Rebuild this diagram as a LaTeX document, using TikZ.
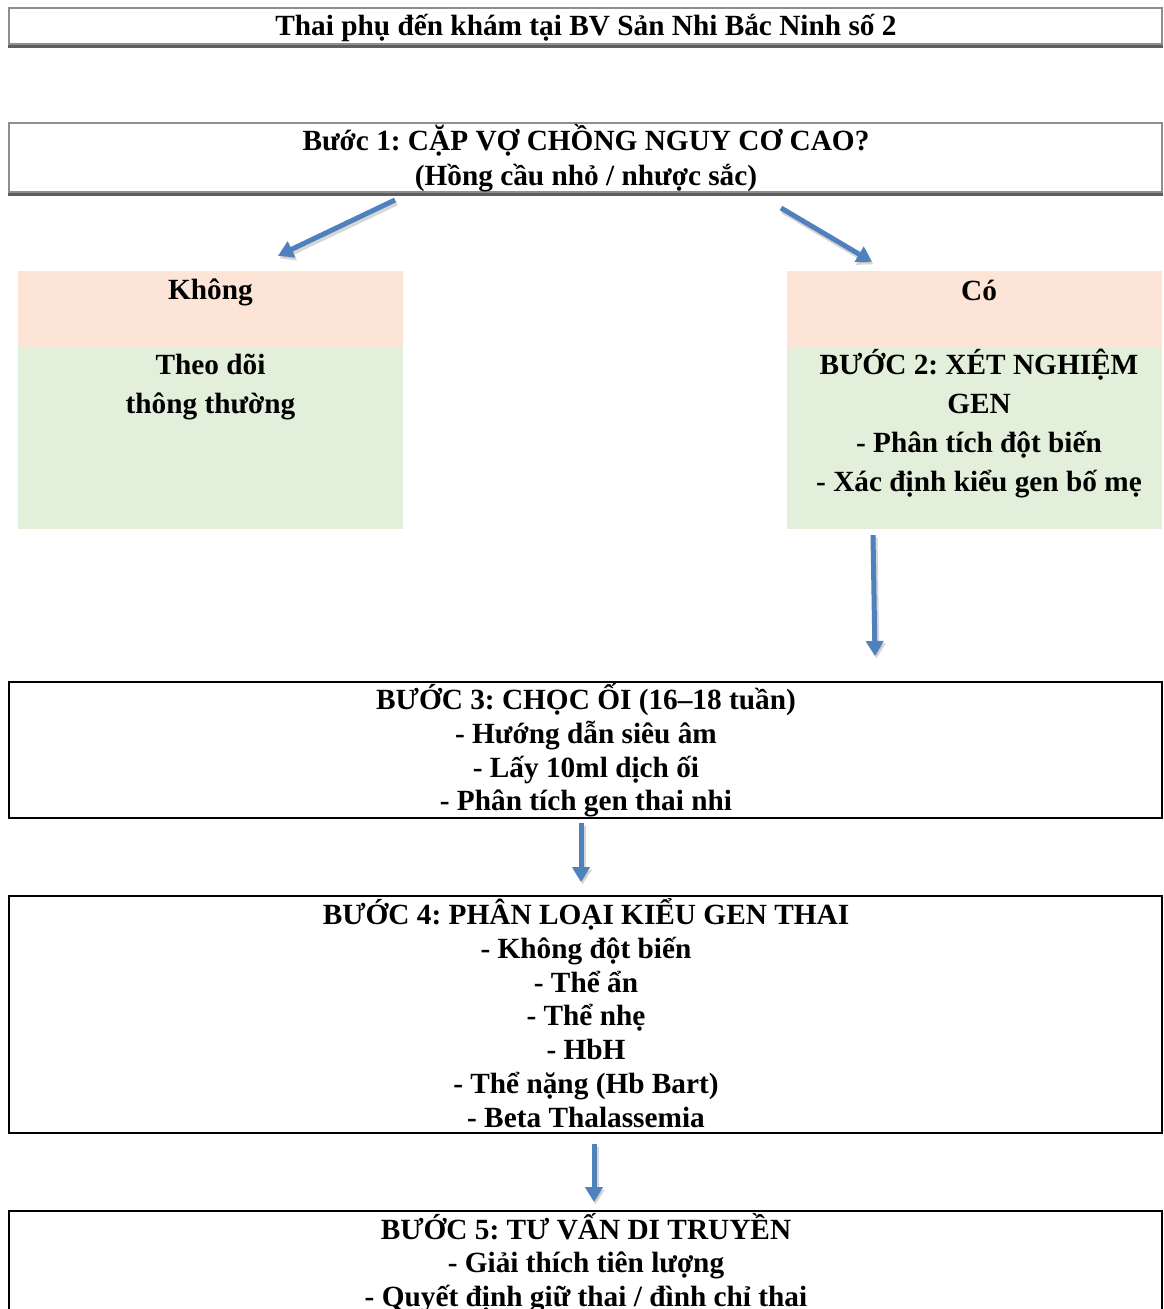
\documentclass[tikz,border=0pt]{standalone}
\usepackage{fontspec}
\setmainfont{Liberation Serif}
\frenchspacing
\usetikzlibrary{arrows.meta,calc}
\definecolor{peach}{HTML}{FCE4D6}
\definecolor{mint}{HTML}{E2EFDA}
\definecolor{arrblue}{HTML}{4F81BD}
\definecolor{framegray}{HTML}{8E8E8E}
\definecolor{shadowgray}{HTML}{5E5E5E}
\begin{document}
\begin{tikzpicture}[x=1pt,y=-1pt,
  txt/.style={font=\fontsize{29.3}{33.7}\selectfont\bfseries, align=center, inner sep=0pt, text=black},
  txtwide/.style={font=\fontsize{29.3}{39}\selectfont\bfseries, align=center, inner sep=0pt, text=black},
  graybox/.style={draw=framegray, line width=2pt, fill=white, minimum width=1153pt, inner sep=0pt, txt},
  blackbox/.style={draw=black, line width=2pt, fill=white, minimum width=1153pt, inner sep=0pt, txt},
  fillbox/.style={inner sep=0pt, draw=none},
  bluearrow/.style={arrblue, line width=5pt, -{Triangle[length=15pt,width=17pt]}},
  arrshadow/.style={black!45, opacity=0.35, line width=6pt, -{Triangle[length=15pt,width=18pt]}}
]
\useasboundingbox (0,0) rectangle (1163,1309);
\clip (0,0) rectangle (1163,1309);
\fill[white] (0,0) rectangle (1163,1309);

% title
\node[graybox, minimum height=36pt] (title) at (585.5,26) {};
\node[txt] (titleT) at (586,27.5) {Thai phụ đến khám tại BV Sản Nhi Bắc Ninh số 2};
\draw[shadowgray, line width=3pt] ([yshift=-1.5pt]title.south west) -- ([yshift=-1.5pt]title.south east);

% step 1
\node[graybox, minimum height=69pt] (s1) at (585.5,157.5) {};
\node[txt, font=\fontsize{29.3}{35}\selectfont\bfseries] (s1T) at (586,158.5) {Bước 1: CẶP VỢ CHỒNG NGUY CƠ CAO?\\(Hồng cầu nhỏ / nhược sắc)};
\draw[shadowgray, line width=3pt] ([yshift=-1.5pt]s1.south west) -- ([yshift=-1.5pt]s1.south east);

% Khong column
\node[fillbox, fill=peach, minimum width=385pt, minimum height=76pt] (kh) at (210.5,309) {};
\node[fillbox, fill=mint, minimum width=385pt, minimum height=182pt] (khg) at (210.5,438) {};
\node[txt] (khT) at (210.5,292) {Không};
\node[txtwide] (khgT) at (210.5,387.5) {Theo dõi\\thông thường};

% Co column
\node[fillbox, fill=peach, minimum width=375pt, minimum height=76pt] (co) at (974.5,309) {};
\node[fillbox, fill=mint, minimum width=375pt, minimum height=182pt] (cog) at (974.5,438) {};
\node[txt] (coT) at (979,290) {Có};
\node[txtwide] (cogT) at (979,423.5) {BƯỚC 2: XÉT NGHIỆM\\GEN\\- Phân tích đột biến\\- Xác định kiểu gen bố mẹ};

% step 3
\node[blackbox, minimum height=136pt] (s3) at (585.5,750) {};
\node[txt] (s3T) at (586,750.5) {BƯỚC 3: CHỌC ỐI (16–18 tuần)\\- Hướng dẫn siêu âm\\- Lấy 10ml dịch ối\\- Phân tích gen thai nhi};

% step 4
\node[blackbox, minimum height=237pt] (s4) at (585.5,1014.5) {};
\node[txt] (s4T) at (586,1013) {BƯỚC 4: PHÂN LOẠI KIỂU GEN THAI\\- Không đột biến\\- Thể ẩn\\- Thể nhẹ\\- HbH\\- Thể nặng (Hb Bart)\\- Beta Thalassemia};

% step 5
\node[blackbox, minimum height=105pt] (s5) at (585.5,1263.5) {};
\node[txt] (s5T) at (586,1263) {BƯỚC 5: TƯ VẤN DI TRUYỀN\\- Giải thích tiên lượng\\- Quyết định giữ thai / đình chỉ thai};

% arrow end points
\coordinate (a1s) at ($(s1.south)+(-190.5,7)$);
\coordinate (a1e) at ($(kh.north)+(67.5,-15)$);
\coordinate (a2s) at ($(s1.south)+(195.5,15)$);
\coordinate (a2e) at ($(co.north)+(-102.5,-9)$);
\coordinate (a3s) at ($(cog.south)+(-101.5,6)$);
\coordinate (a3e) at ($(s3.north)+(289.5,-25)$);
\coordinate (a4s) at ($(s3.south)+(-4.5,4)$);
\coordinate (a4e) at ($(s4.north)+(-4.5,-13)$);
\coordinate (a5s) at ($(s4.south)+(8.5,10)$);
\coordinate (a5e) at ($(s5.north)+(8.5,-8)$);

% shadows
\foreach \s/\e in {a1s/a1e,a2s/a2e,a3s/a3e,a4s/a4e,a5s/a5e}{
  \draw[arrshadow, transform canvas={shift={(1.5pt,-2.5pt)}}] (\s) -- (\e);
}
% arrows
\draw[bluearrow] (a1s) -- (a1e);
\draw[bluearrow] (a2s) -- (a2e);
\draw[bluearrow] (a3s) -- (a3e);
\draw[bluearrow] (a4s) -- (a4e);
\draw[bluearrow] (a5s) -- (a5e);
\end{tikzpicture}
\end{document}
